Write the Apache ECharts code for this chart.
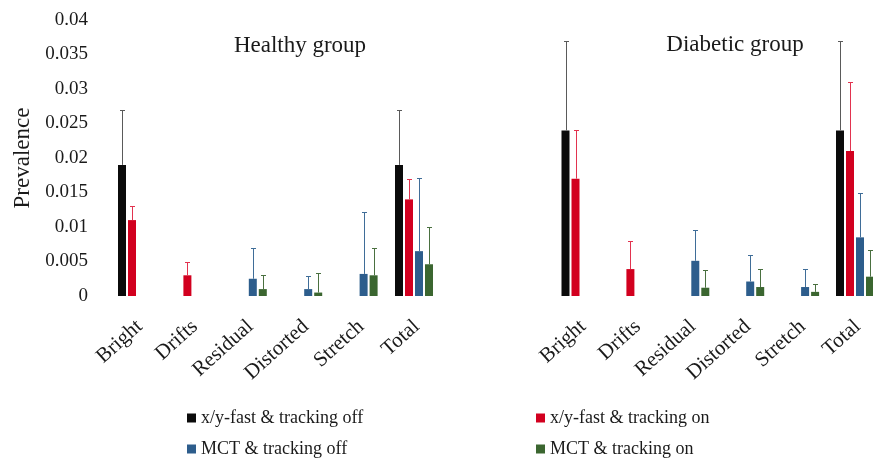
<!DOCTYPE html>
<html>
<head>
<meta charset="utf-8">
<script src="https://cdn.jsdelivr.net/npm/echarts@6/dist/echarts.min.js"></script>
<style>
html,body{margin:0;padding:0;background:#fff;}
#chart{width:873px;height:463px;}
</style>
</head>
<body>
<div id="chart"></div>
<script>
const categories = ['Bright', 'Drifts', 'Residual', 'Distorted', 'Stretch', 'Total'];
const seriesNames = ['x/y-fast & tracking off', 'x/y-fast & tracking on', 'MCT & tracking off', 'MCT & tracking on'];
const yTicks = [0, 0.005, 0.01, 0.015, 0.02, 0.025, 0.03, 0.035, 0.04];
const panelTitles = ['Healthy group', 'Diabetic group'];

// Healthy group: bar values and error-bar upper ends
const healthyXyOff = [0.019, 0, 0, 0, 0, 0.019];
const healthyXyOn = [0.011, 0.003, 0, 0, 0, 0.014];
const healthyMctOff = [0, 0, 0.0025, 0.001, 0.0032, 0.0065];
const healthyMctOn = [0, 0, 0.001, 0.0005, 0.003, 0.0046];
const healthyXyOffUpper = [0.027, null, null, null, null, 0.027];
const healthyXyOnUpper = [0.013, 0.005, null, null, null, 0.017];
const healthyMctOffUpper = [null, null, 0.007, 0.0029, 0.0122, 0.0171];
const healthyMctOnUpper = [null, null, 0.003, 0.0033, 0.007, 0.010];

// Diabetic group
const diabeticXyOff = [0.024, 0, 0, 0, 0, 0.024];
const diabeticXyOn = [0.017, 0.0039, 0, 0, 0, 0.021];
const diabeticMctOff = [0, 0, 0.0051, 0.0021, 0.0013, 0.0085];
const diabeticMctOn = [0, 0, 0.0012, 0.0013, 0.0006, 0.0028];
const diabeticXyOffUpper = [0.037, null, null, null, null, 0.037];
const diabeticXyOnUpper = [0.024, 0.0079, null, null, null, 0.031];
const diabeticMctOffUpper = [null, null, 0.0095, 0.006, 0.0039, 0.015];
const diabeticMctOnUpper = [null, null, 0.0037, 0.0039, 0.0018, 0.0067];

const barColors = ['#0b0b0b', '#d2001f', '#2d5d8c', '#3b6630'];
const errColors = ['#5a5a5a', '#e2334f', '#3f6d98', '#4a7040'];
const offsets = [-15, -5, 5, 15];
const FONT = 'Liberation Serif';

const groups = [
  { vals: [healthyXyOff, healthyXyOn, healthyMctOff, healthyMctOn],
    ups: [healthyXyOffUpper, healthyXyOnUpper, healthyMctOffUpper, healthyMctOnUpper] },
  { vals: [diabeticXyOff, diabeticXyOn, diabeticMctOff, diabeticMctOn],
    ups: [diabeticXyOffUpper, diabeticXyOnUpper, diabeticMctOffUpper, diabeticMctOnUpper] }
];

function errRenderer(offset, color) {
  return function (params, api) {
    const ci = api.value(0), v = api.value(1), u = api.value(2);
    const p0 = api.coord([ci, v]);
    const p1 = api.coord([ci, u]);
    const x = Math.round(p0[0] + offset) + 0.5;
    const yT = Math.round(p1[1]) + 0.5;
    return {
      type: 'group',
      children: [
        { type: 'line', shape: { x1: x, y1: p0[1], x2: x, y2: yT }, style: { stroke: color, lineWidth: 1 } },
        { type: 'line', shape: { x1: x - 2.5, y1: yT, x2: x + 2.5, y2: yT }, style: { stroke: color, lineWidth: 1 } }
      ]
    };
  };
}

const series = [];
groups.forEach(function (g, gi) {
  for (let s = 0; s < 4; s++) {
    series.push({
      type: 'bar', name: seriesNames[s], xAxisIndex: gi, yAxisIndex: gi,
      data: g.vals[s], barWidth: 8, barGap: '25%', clip: false,
      itemStyle: { color: barColors[s] }, silent: true
    });
  }
  for (let s = 0; s < 4; s++) {
    const d = [];
    g.ups[s].forEach(function (u, i) { if (u !== null) d.push([i, g.vals[s][i], u]); });
    series.push({
      type: 'custom', name: 'err' + gi + s, xAxisIndex: gi, yAxisIndex: gi, clip: false,
      data: d, encode: { x: 0, y: [1, 2] }, renderItem: errRenderer(offsets[s], errColors[s]), z: 5, silent: true
    });
  }
});

const yBase = {
  type: 'value', min: yTicks[0], max: yTicks[yTicks.length - 1], interval: yTicks[1] - yTicks[0],
  splitLine: { show: false }, axisLine: { show: false }, axisTick: { show: false }
};
const xBase = {
  type: 'category', data: categories, boundaryGap: false,
  axisLine: { show: false }, axisTick: { show: false },
  axisLabel: { rotate: 42, fontFamily: FONT, fontSize: 21, color: '#1a1a1a', margin: 16, padding: [0, 6, 0, 0],
    verticalAlign: 'top', align: 'right', interval: 0 }
};

const legendText = { fontFamily: FONT, fontSize: 18, color: '#1a1a1a' };

const option = {
  animation: false,
  backgroundColor: '#ffffff',
  title: [
    { text: panelTitles[0], left: 295, top: 29, textAlign: 'center', textStyle: { fontFamily: FONT, fontSize: 23, fontWeight: 'normal', color: '#1a1a1a' } },
    { text: panelTitles[1], left: 730, top: 28, textAlign: 'center', textStyle: { fontFamily: FONT, fontSize: 23, fontWeight: 'normal', color: '#1a1a1a' } }
  ],
  legend: [
    { orient: 'vertical', left: 187, top: 409, height: 60, padding: 0, itemWidth: 9, itemHeight: 9, itemGap: 13, icon: 'rect',
      data: [seriesNames[0], seriesNames[2]], textStyle: legendText, selectedMode: false },
    { orient: 'vertical', left: 536, top: 409, height: 60, padding: 0, itemWidth: 9, itemHeight: 9, itemGap: 13, icon: 'rect',
      data: [seriesNames[1], seriesNames[3]], textStyle: legendText, selectedMode: false }
  ],
  grid: [
    { left: 137, top: 20, width: 277, height: 276 },
    { left: 580.5, top: 20, width: 274.5, height: 276 }
  ],
  xAxis: [
    Object.assign({}, xBase, { gridIndex: 0 }),
    Object.assign({}, xBase, { gridIndex: 1 })
  ],
  yAxis: [
    Object.assign({}, yBase, {
      gridIndex: 0, name: 'Prevalence', nameLocation: 'middle', nameGap: 103,
      nameTextStyle: { fontFamily: FONT, fontSize: 23, color: '#1a1a1a' },
      axisLabel: { fontFamily: FONT, fontSize: 19, color: '#1a1a1a', margin: 49,
        formatter: function (v) { return String(+v.toFixed(3)); } }
    }),
    Object.assign({}, yBase, { gridIndex: 1, axisLabel: { show: false } })
  ],
  series: series
};

const chart = echarts.init(document.getElementById('chart'), null, { renderer: 'canvas' });
chart.setOption(option);
</script>
</body>
</html>
